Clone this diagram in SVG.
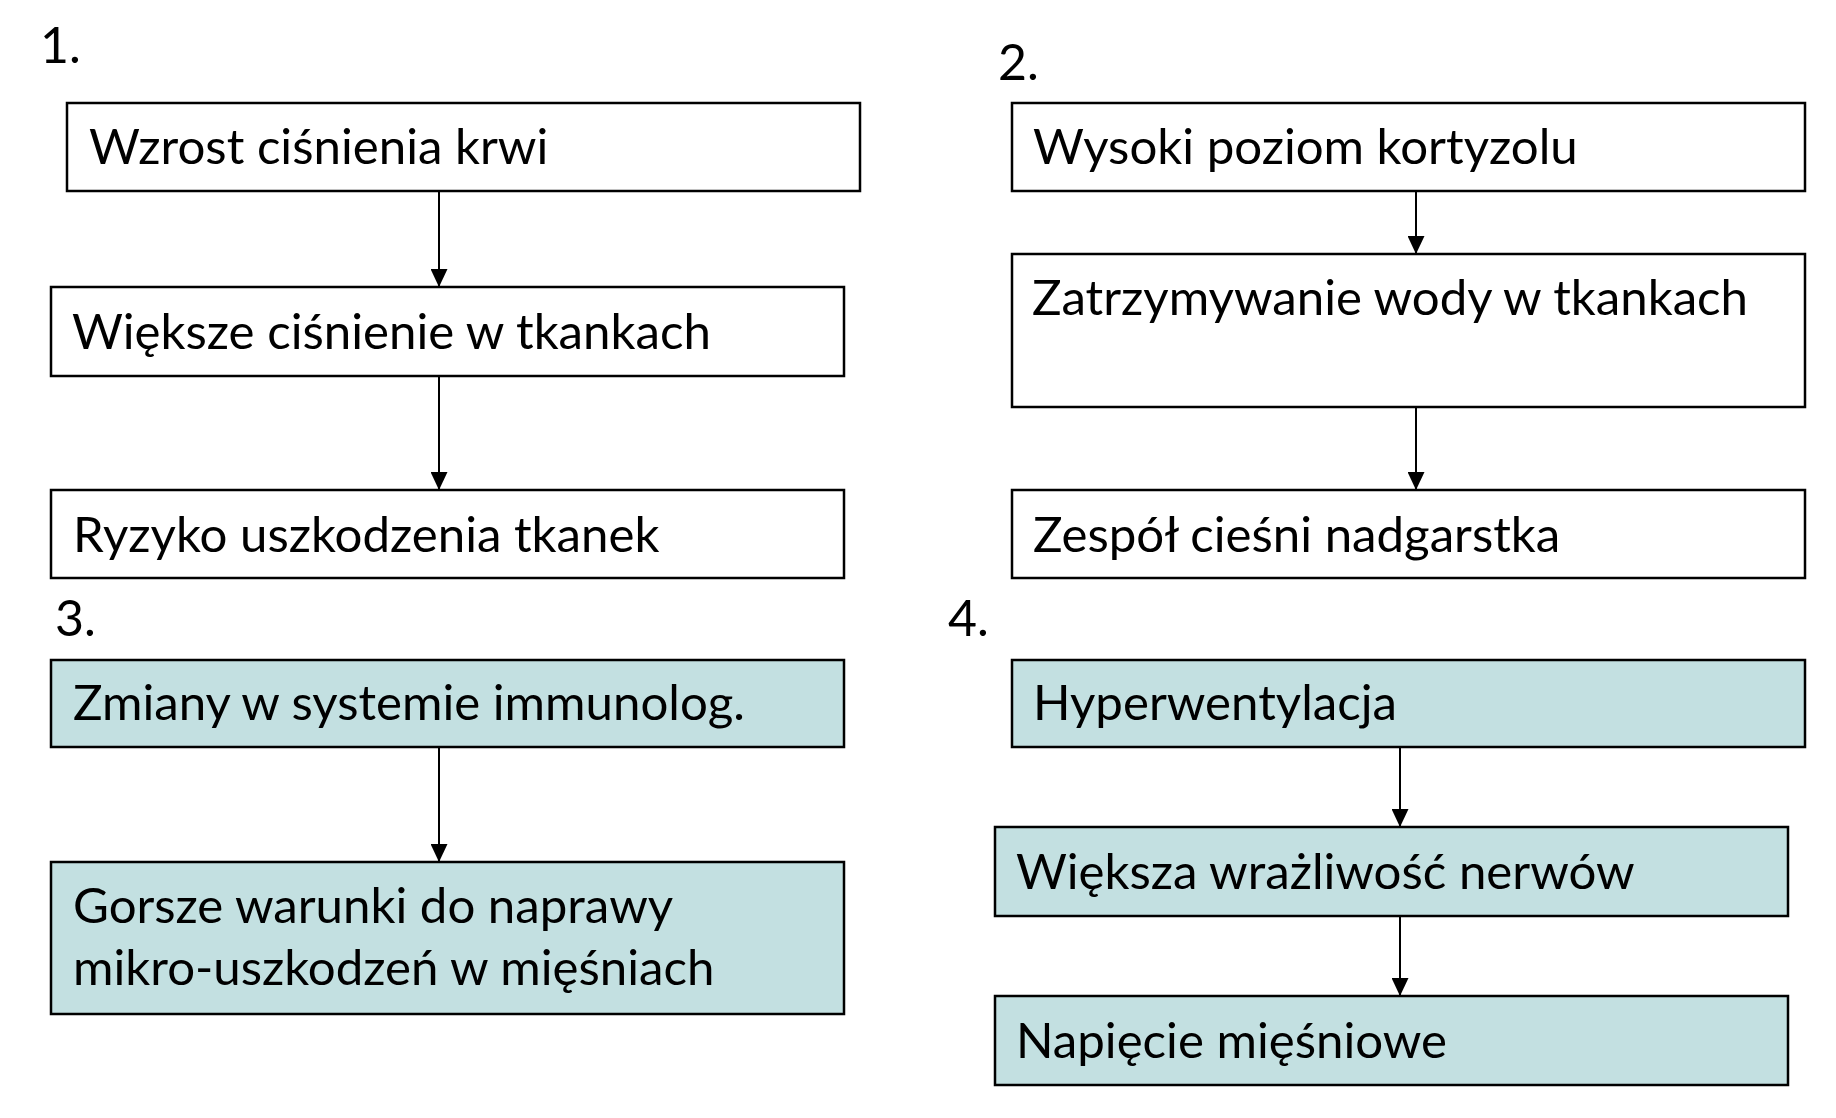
<svg xmlns="http://www.w3.org/2000/svg" width="1836" height="1118" viewBox="0 0 1836 1118">
<defs>
<marker id="ah" viewBox="0 0 18 17" refX="18" refY="8.5" markerWidth="18" markerHeight="17" markerUnits="userSpaceOnUse" orient="auto">
<path d="M0,0 L18,8.5 L0,17 Z" fill="#000"/>
</marker>
<style>
.box{fill:#fff;stroke:#000;stroke-width:2.5}
.teal{fill:#c3e0e1;stroke:#000;stroke-width:2.5}
.t{font-family:Lato,"Liberation Sans",sans-serif;font-size:49.2px;fill:#000}
.n{font-family:Lato,"Liberation Sans",sans-serif;font-size:50px;fill:#000}
.c{stroke:#000;stroke-width:2;fill:none;marker-end:url(#ah)}
</style>
</defs>
<rect width="1836" height="1118" fill="#fff"/>
<text class="n" x="40" y="63">1.</text>
<text class="n" x="998" y="80">2.</text>
<text class="n" x="55" y="636">3.</text>
<text class="n" x="948" y="636">4.</text>
<g id="connectors">
<line class="c" x1="439" y1="191" x2="439" y2="287"/>
<line class="c" x1="439" y1="377" x2="439" y2="490"/>
<line class="c" x1="439" y1="747" x2="439" y2="862"/>
<line class="c" x1="1416" y1="191" x2="1416" y2="254"/>
<line class="c" x1="1416" y1="407" x2="1416" y2="490"/>
<line class="c" x1="1400" y1="747" x2="1400" y2="827"/>
<line class="c" x1="1400" y1="916" x2="1400" y2="996"/>
</g>
<g id="n1"><rect class="box" x="67" y="103" width="793" height="88"/><text class="t" x="89" y="164">Wzrost ciśnienia krwi</text></g>
<g id="n2"><rect class="box" x="51" y="287" width="793" height="89"/><text class="t" x="72" y="349">Większe ciśnienie w tkankach</text></g>
<g id="n3"><rect class="box" x="51" y="490" width="793" height="88"/><text class="t" x="73" y="552">Ryzyko uszkodzenia tkanek</text></g>
<g id="n4"><rect class="teal" x="51" y="660" width="793" height="87"/><text class="t" x="73" y="720">Zmiany w systemie immunolog.</text></g>
<g id="n5"><rect class="teal" x="51" y="862" width="793" height="152"/><text class="t" x="73" y="923">Gorsze warunki do naprawy</text><text class="t" x="73" y="985">mikro-uszkodzeń w mięśniach</text></g>
<g id="n6"><rect class="box" x="1012" y="103" width="793" height="88"/><text class="t" x="1033" y="164">Wysoki poziom kortyzolu</text></g>
<g id="n7"><rect class="box" x="1012" y="254" width="793" height="153"/><text class="t" x="1032" y="315">Zatrzymywanie wody w tkankach</text></g>
<g id="n8"><rect class="box" x="1012" y="490" width="793" height="88"/><text class="t" x="1033" y="552">Zespół cieśni nadgarstka</text></g>
<g id="n9"><rect class="teal" x="1012" y="660" width="793" height="87"/><text class="t" x="1033" y="720">Hyperwentylacja</text></g>
<g id="n10"><rect class="teal" x="995" y="827" width="793" height="89"/><text class="t" x="1016" y="889">Większa wrażliwość nerwów</text></g>
<g id="n11"><rect class="teal" x="995" y="996" width="793" height="89"/><text class="t" x="1016" y="1058">Napięcie mięśniowe</text></g>
</svg>
